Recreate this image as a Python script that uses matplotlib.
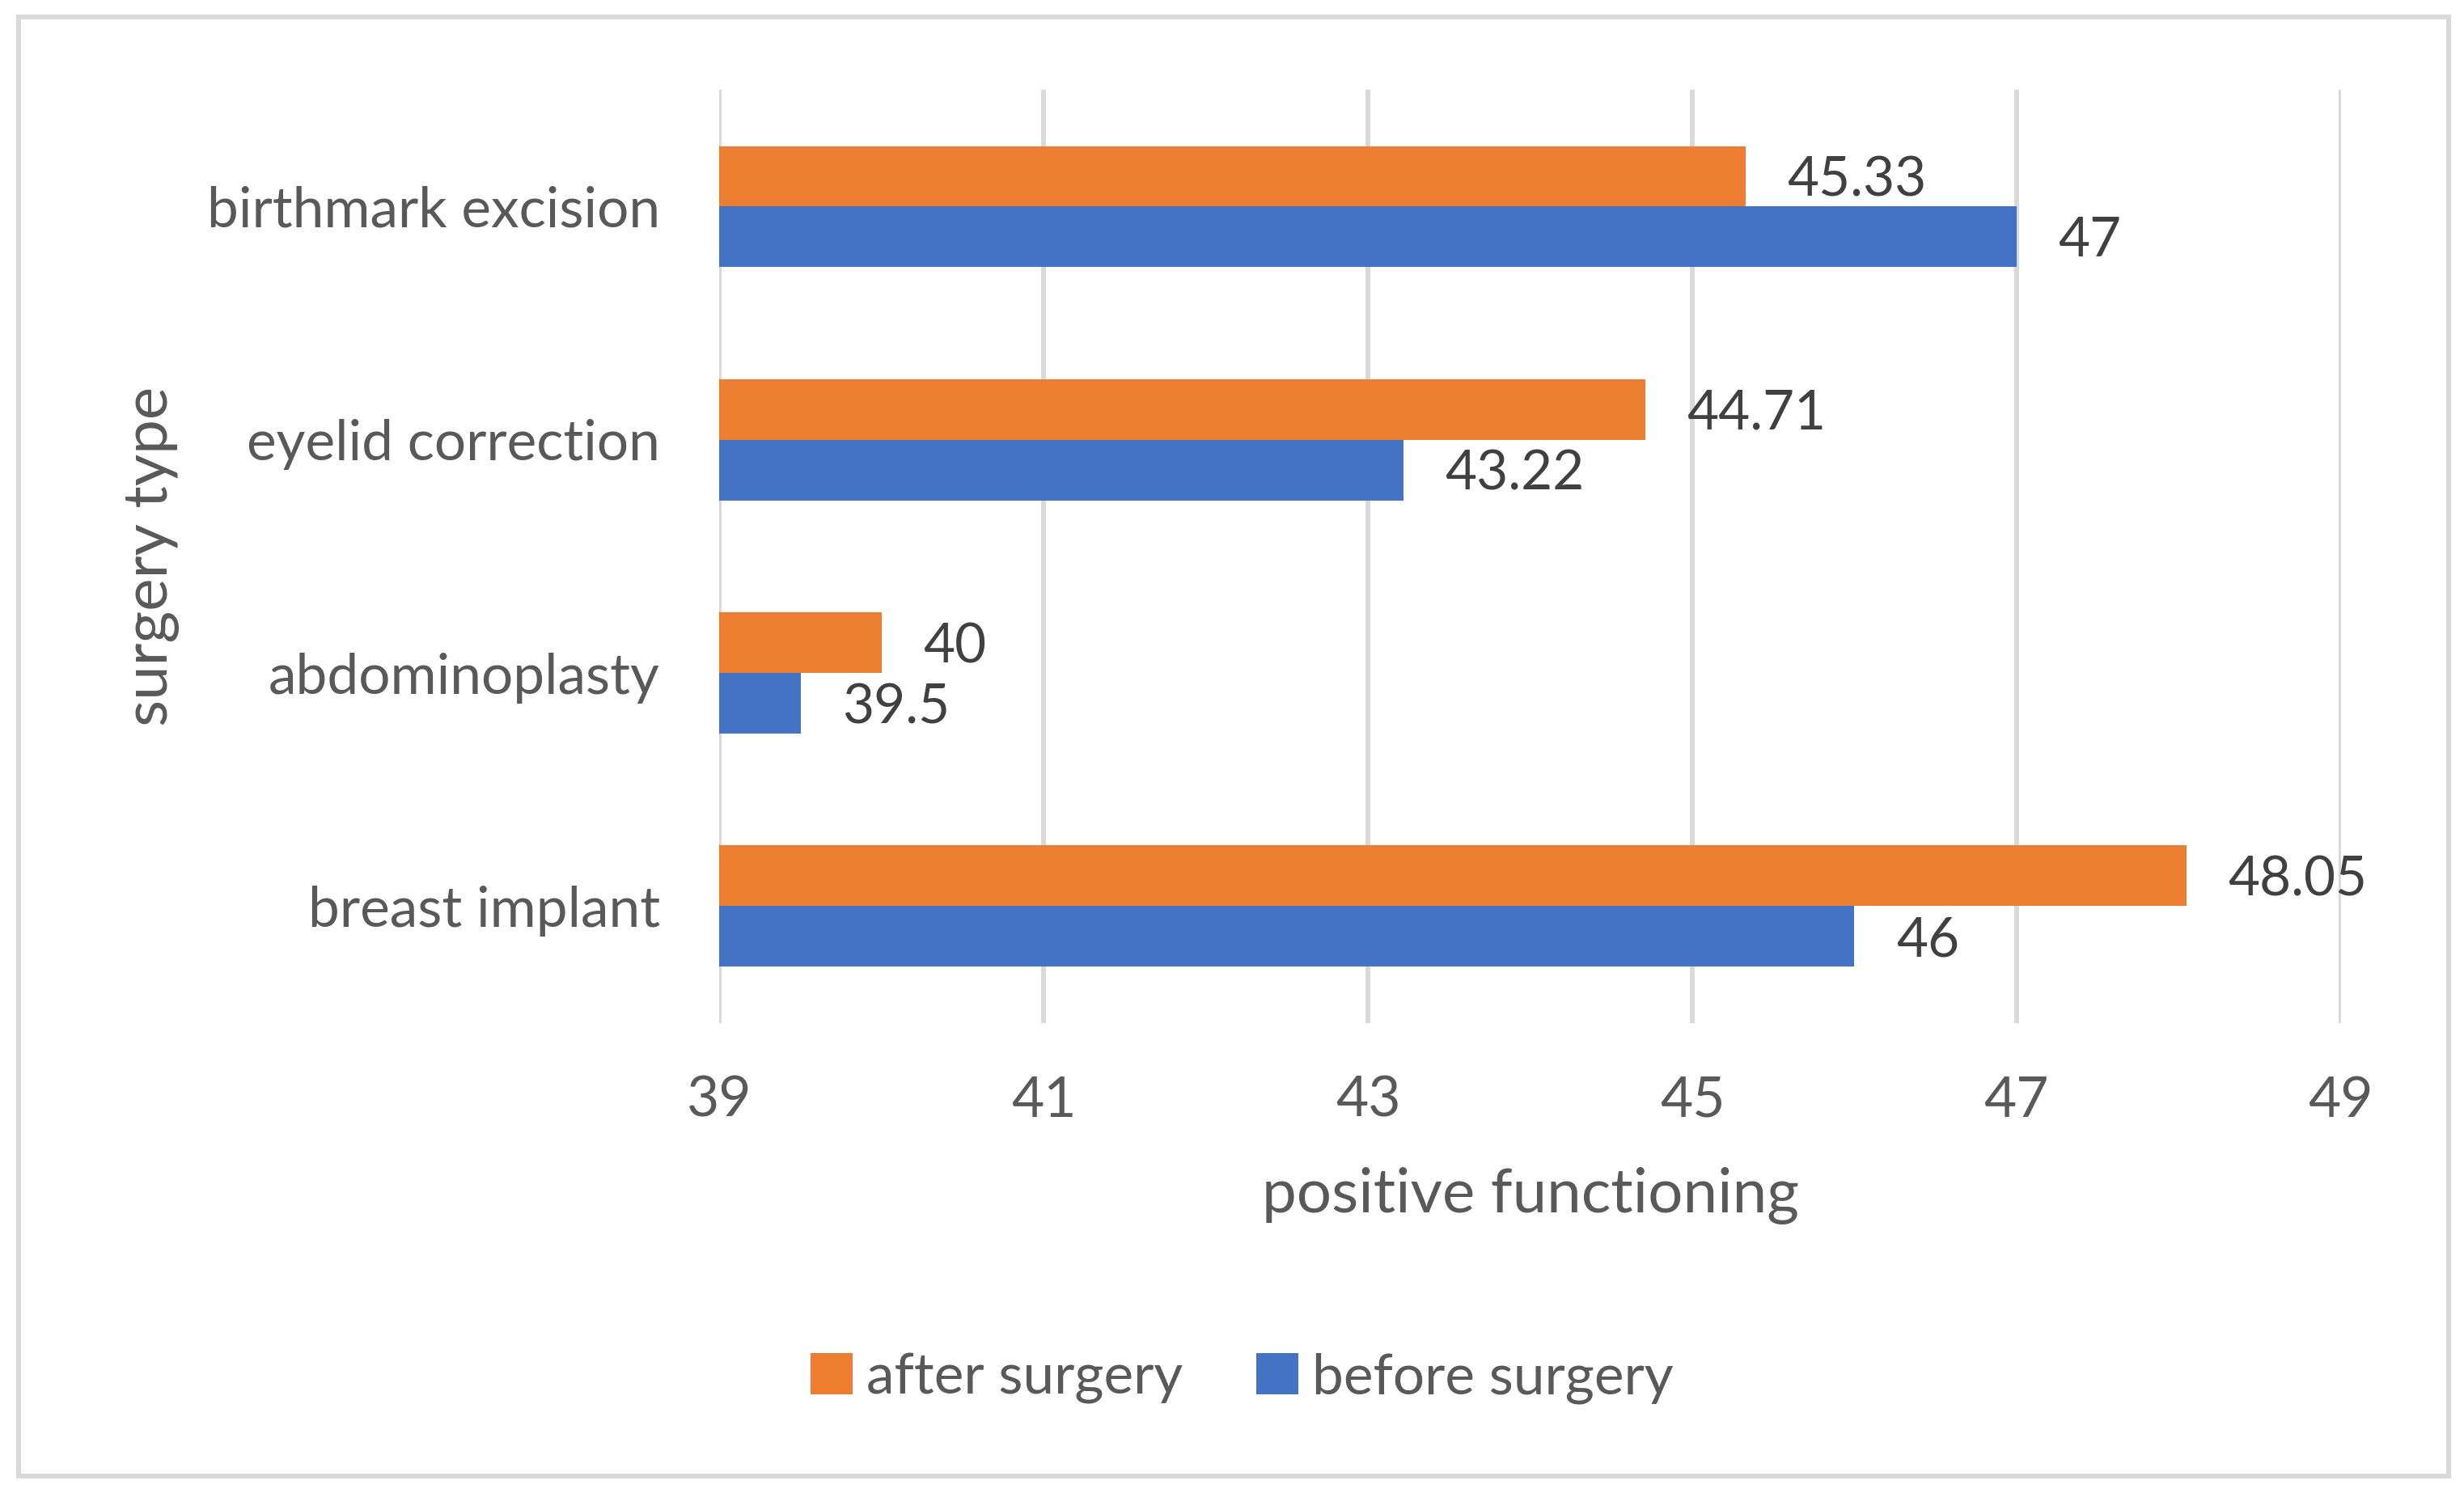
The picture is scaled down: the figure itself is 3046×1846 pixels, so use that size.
import matplotlib
matplotlib.use("Agg")
import matplotlib.pyplot as plt
from matplotlib.patches import Rectangle
import numpy as np

categories = ["breast implant", "abdominoplasty", "eyelid correction", "birthmark excision"]
after_surgery = [48.05, 40, 44.71, 45.33]
before_surgery = [46, 39.5, 43.22, 47]
after_labels = ["48.05", "40", "44.71", "45.33"]
before_labels = ["46", "39.5", "43.22", "47"]
xticks = [39, 41, 43, 45, 47, 49]

plt.rcParams['font.family'] = ['Lato', 'DejaVu Sans']
TXT = "#595959"
LBL = "#404040"
ORANGE = "#ED7D31"
BLUE = "#4472C4"
GRID = "#D9D9D9"

fig = plt.figure(figsize=(30.46, 18.46), dpi=100)
ax = fig.add_axes([0.292, 0.315, 0.950 - 0.292, 0.9397 - 0.315])

y = np.arange(len(categories))
h = 0.26
ax.barh(y + h / 2, [a - 39 for a in after_surgery], left=39, height=h, color=ORANGE, label="after surgery", zorder=3)
ax.barh(y - h / 2, [b - 39 for b in before_surgery], left=39, height=h, color=BLUE, label="before surgery", zorder=3)

for i in range(len(categories)):
    ax.annotate(after_labels[i], (after_surgery[i], y[i] + h / 2), xytext=(37, -4),
                textcoords="offset points", va="center", ha="left", fontsize=48.5, color=LBL)
    ax.annotate(before_labels[i], (before_surgery[i], y[i] - h / 2), xytext=(37, -4),
                textcoords="offset points", va="center", ha="left", fontsize=48.5, color=LBL)

ax.set_xlim(39, 49)
ax.set_ylim(-0.5, 3.5)
ax.set_xticks(xticks)
ax.set_xticklabels([str(t) for t in xticks])
ax.set_yticks(y)
ax.set_yticklabels(categories)
ax.tick_params(axis="both", length=0, labelsize=50, labelcolor=TXT)
ax.tick_params(axis="y", pad=53)
ax.tick_params(axis="x", pad=47)
ax.grid(axis="x", color=GRID, linewidth=4.3, zorder=0)
ax.grid(axis="y", visible=False)
for s in ax.spines.values():
    s.set_visible(False)

ax.set_xlabel("positive functioning", fontsize=55, color=TXT, labelpad=36)
ax.set_ylabel("surgery type", fontsize=55, color=TXT, labelpad=24)

handles, labels = ax.get_legend_handles_labels()
fig.legend(handles, labels, loc="center", bbox_to_anchor=(0.504, 0.077), ncol=2, frameon=False,
           fontsize=50, labelcolor=TXT, handlelength=0.75, handleheight=0.75, handletextpad=0.25,
           columnspacing=1.3)

fig.patches.append(Rectangle((23 / 3046, 21 / 1846), (3027 - 23) / 3046, (1825 - 21) / 1846,
                             transform=fig.transFigure, fill=False, edgecolor=GRID, linewidth=4.3))

fig.savefig("out.png", dpi=100, facecolor="white")
